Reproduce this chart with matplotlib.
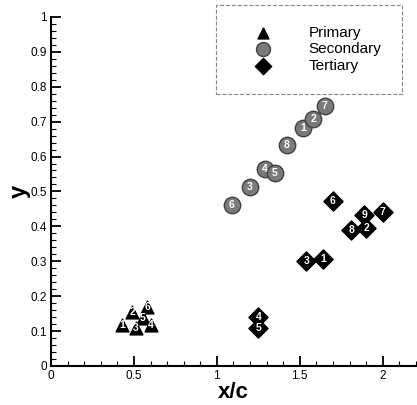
import numpy as np
import matplotlib.pyplot as plt
from matplotlib.ticker import MultipleLocator, FormatStrFormatter

plt.rcParams['font.family'] = ['Liberation Sans', 'DejaVu Sans']

# primary vortices (triangles)
prim_x = [0.43, 0.49, 0.51, 0.555, 0.58, 0.60]
prim_y = [0.118, 0.155, 0.110, 0.137, 0.170, 0.118]
prim_lbl = ["1", "2", "3", "5", "6", "4"]

# secondary vortices (circles)
sec_x = [1.52, 1.58, 1.20, 1.29, 1.35, 1.09, 1.65, 1.42]
sec_y = [0.682, 0.708, 0.513, 0.565, 0.553, 0.461, 0.745, 0.633]
sec_lbl = ["1", "2", "3", "4", "5", "6", "7", "8"]

# tertiary vortices (diamonds)
ter_x = [1.64, 1.90, 1.54, 1.25, 1.25, 1.70, 2.00, 1.89, 1.81]
ter_y = [0.307, 0.395, 0.300, 0.140, 0.110, 0.473, 0.441, 0.433, 0.390]
ter_lbl = ["1", "2", "3", "4", "5", "6", "7", "9", "8"]

fig = plt.figure(figsize=(4.17, 4.05), dpi=100)
ax = fig.add_axes([0.1223, 0.0963, 0.875, 0.862])

ax.scatter(prim_x, prim_y, marker="^", s=85, c="black", zorder=3, label="Primary")
ax.scatter(sec_x, sec_y, marker="o", s=140, c="#7a7a7a", edgecolors="#404040",
           linewidths=1, zorder=3, label="Secondary")
ax.scatter(ter_x, ter_y, marker="D", s=95, c="black", zorder=3, label="Tertiary")

# numbers inside the markers
for xs, ys, ls in [(prim_x, prim_y, prim_lbl), (sec_x, sec_y, sec_lbl), (ter_x, ter_y, ter_lbl)]:
    for x, y, l in zip(xs, ys, ls):
        ax.text(x, y, l, color="white", fontsize=7.5, ha="center", va="center",
                fontweight="bold", zorder=4)

ax.set_xlim(0, 2.2)
ax.set_ylim(0, 1)
ax.spines["top"].set_visible(False)
ax.spines["right"].set_visible(False)
ax.spines["left"].set_linewidth(1.5)
ax.spines["bottom"].set_linewidth(1.5)

ax.xaxis.set_major_locator(MultipleLocator(0.5))
ax.xaxis.set_minor_locator(MultipleLocator(0.1))
ax.yaxis.set_major_locator(MultipleLocator(0.1))
ax.yaxis.set_minor_locator(MultipleLocator(0.02))
ax.xaxis.set_major_formatter(FormatStrFormatter("%g"))
ax.yaxis.set_major_formatter(FormatStrFormatter("%g"))
ax.tick_params(which="major", direction="in", length=7, width=1.3, labelsize=8.5, pad=3)
ax.tick_params(which="minor", direction="in", length=3.5, width=0.8)

ax.set_xlabel("x/c", fontsize=16, fontweight="bold", labelpad=0)
ax.set_ylabel("y", fontsize=17, fontweight="bold", labelpad=0)

leg = ax.legend(loc="upper left", bbox_to_anchor=(216 / 417, 1 - 5 / 405),
                bbox_transform=fig.transFigure, borderaxespad=0, fontsize=11,
                borderpad=1.35, handlelength=3.4, handletextpad=1.3,
                labelspacing=0.18, fancybox=False, framealpha=1, scatterpoints=1,
                markerscale=0.85)
leg.get_frame().set_edgecolor("#888888")
leg.get_frame().set_linestyle("--")
leg.get_frame().set_linewidth(0.8)

fig.savefig("out.png", dpi=100)
